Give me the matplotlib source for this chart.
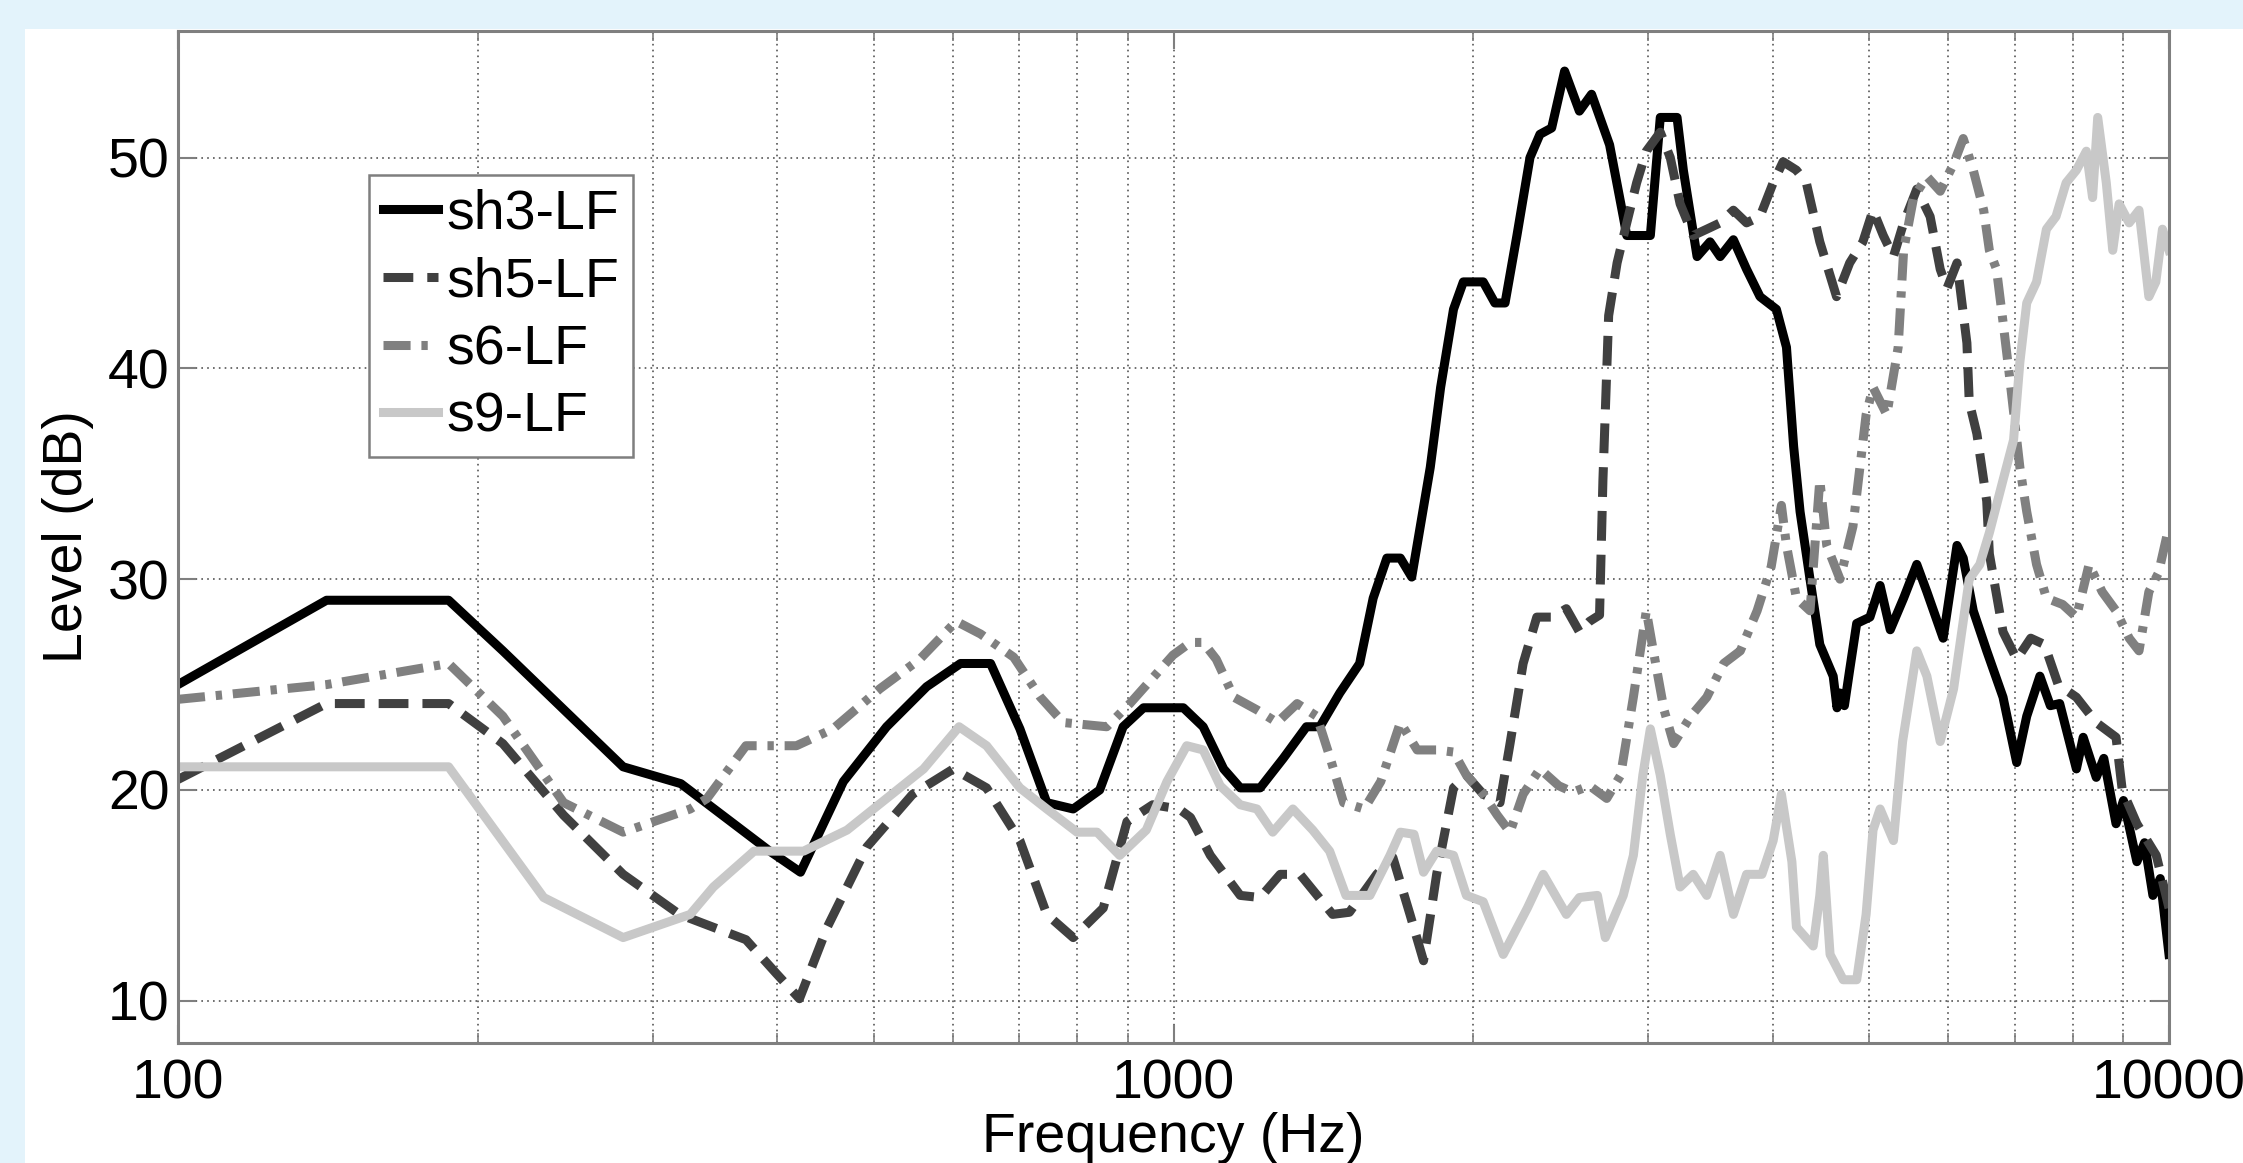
import numpy as np
import matplotlib.pyplot as plt
from matplotlib.patches import Rectangle

# Level vs frequency
sh3_freq = [100, 141, 187, 212, 280, 320, 393, 422, 466, 515, 565, 611, 655, 701, 746, 793, 843, 890,
            933, 1023, 1071, 1123, 1167, 1222, 1289, 1360, 1403, 1469, 1538, 1587, 1638, 1690, 1735,
            1811, 1855, 1911, 1955, 2047, 2103, 2153, 2213, 2281, 2334, 2398, 2471, 2557, 2630, 2742,
            2830, 2853, 3013, 3083, 3205, 3252, 3357, 3459, 3541, 3651, 3764, 3883, 4033, 4128, 4197,
            4260, 4359, 4459, 4599, 4640, 4672, 4720, 4778, 4856, 5007, 5126, 5248, 5413, 5580, 5712,
            5931, 6124, 6213, 6359, 6560, 6812, 7031, 7196, 7418, 7600, 7766, 8072, 8200, 8451, 8600,
            8847, 9000, 9284, 9450, 9635, 9800, 10000]
sh3_level = [25.0, 29.0, 29.0, 26.6, 21.1, 20.3, 17.1, 16.1, 20.4, 23.0, 24.9, 26.0, 26.0, 22.9, 19.4,
             19.1, 20.0, 23.0, 23.9, 23.9, 23.0, 21.0, 20.1, 20.1, 21.5, 23.0, 23.0, 24.6, 26.0, 29.1,
             31.0, 31.0, 30.1, 35.3, 39.1, 42.8, 44.1, 44.1, 43.1, 43.1, 46.3, 50.0, 51.1, 51.4, 54.1,
             52.2, 53.0, 50.6, 47.2, 46.3, 46.3, 51.9, 51.9, 49.4, 45.3, 46.0, 45.3, 46.1, 44.7, 43.4,
             42.8, 41.0, 36.3, 33.2, 30.0, 26.9, 25.4, 23.9, 24.6, 24.0, 25.7, 27.9, 28.2, 29.7, 27.6,
             29.1, 30.7, 29.4, 27.2, 31.6, 31.0, 28.5, 26.6, 24.4, 21.3, 23.5, 25.4, 24.0, 24.1, 21.0,
             22.5, 20.6, 21.5, 18.4, 19.5, 16.6, 17.5, 15.0, 15.8, 12.2]

sh5_freq = [100, 141, 187, 212, 244, 280, 319, 372, 399, 421, 449, 492, 547, 601, 649, 701, 746, 793,
            850, 898, 953, 1013, 1040, 1089, 1167, 1222, 1280, 1340, 1445, 1502, 1600, 1661, 1728, 1783,
            1838, 1911, 1969, 2047, 2128, 2178, 2245, 2317, 2404, 2481, 2557, 2618, 2679, 2700, 2736,
            2790, 2853, 2919, 2985, 3083, 3155, 3228, 3327, 3433, 3541, 3651, 3764, 3883, 4003, 4096,
            4224, 4322, 4459, 4635, 4778, 4926, 5043, 5164, 5287, 5413, 5580, 5755, 5891, 5985, 6124,
            6266, 6300, 6412, 6560, 6600, 6812, 7031, 7263, 7497, 7739, 8072, 8451, 8847, 8975, 9284,
            9710, 10000]
sh5_level = [20.5, 24.1, 24.1, 22.2, 18.8, 16.0, 14.1, 12.9, 11.3, 10.1, 13.5, 17.3, 19.8, 21.0, 20.1,
             17.6, 14.1, 13.0, 14.4, 18.5, 19.3, 19.1, 18.7, 16.9, 15.0, 14.9, 16.0, 16.0, 14.1, 14.2,
             16.0, 16.8, 14.1, 11.9, 16.0, 20.1, 20.7, 19.8, 19.4, 22.2, 26.0, 28.2, 28.2, 28.6, 27.5,
             28.0, 28.3, 34.7, 42.5, 45.0, 46.9, 48.8, 50.3, 51.2, 50.0, 47.8, 46.3, 46.6, 46.9, 47.5,
             46.9, 47.2, 48.8, 49.8, 49.4, 48.8, 46.0, 43.4, 45.0, 46.0, 47.5, 46.3, 45.3, 46.9, 48.5,
             47.2, 44.7, 43.8, 45.0, 41.2, 38.4, 36.9, 33.7, 31.2, 27.5, 26.2, 27.2, 26.9, 25.0, 24.4,
             23.2, 22.5, 20.0, 18.4, 16.9, 14.4]

s6_freq = [100, 141, 187, 212, 244, 280, 327, 340, 372, 418, 455, 507, 556, 605, 640, 691, 735, 775, 857,
           904, 999, 1040, 1071, 1104, 1150, 1213, 1271, 1331, 1393, 1435, 1482, 1554, 1615, 1690, 1757,
           1838, 1911, 1969, 2047, 2115, 2178, 2245, 2334, 2438, 2519, 2618, 2724, 2813, 2897, 2985,
           3026, 3110, 3180, 3308, 3433, 3570, 3710, 3857, 3985, 4080, 4128, 4224, 4359, 4459, 4531,
           4672, 4814, 4963, 5043, 5206, 5345, 5413, 5539, 5712, 5891, 6076, 6213, 6359, 6514, 6600,
           6710, 6812, 6924, 7083, 7196, 7361, 7531, 7819, 8072, 8312, 8568, 8847, 9120, 9330, 9545,
           9760, 10000]
s6_level = [24.3, 25.0, 26.0, 23.5, 19.4, 18.0, 19.1, 19.6, 22.1, 22.1, 22.9, 24.8, 26.2, 28.0, 27.4,
            26.3, 24.4, 23.2, 23.0, 24.1, 26.4, 27.0, 27.0, 26.2, 24.4, 23.8, 23.2, 24.1, 23.5, 21.6,
            19.4, 19.1, 20.4, 23.2, 21.9, 21.9, 21.8, 20.7, 19.8, 18.8, 18.0, 19.8, 21.0, 20.2, 19.9,
            20.2, 19.6, 20.7, 24.4, 28.5, 26.9, 23.8, 22.2, 23.5, 24.4, 26.0, 26.6, 28.5, 30.6, 33.5,
            31.6, 29.1, 28.5, 34.7, 31.6, 30.0, 32.5, 37.8, 39.1, 37.8, 41.0, 45.6, 48.1, 49.1, 48.4,
            49.7, 50.9, 49.4, 47.5, 45.6, 44.7, 42.2, 39.4, 35.3, 33.2, 30.7, 29.1, 28.8, 28.2, 30.7,
            29.4, 28.5, 27.2, 26.6, 29.4, 30.3, 32.5]

s9_freq = [100, 187, 233, 280, 327, 345, 379, 425, 470, 515, 561, 609, 649, 701, 746, 800, 838, 883, 939,
           985, 1031, 1071, 1114, 1167, 1213, 1258, 1318, 1380, 1435, 1490, 1575, 1650, 1690, 1744, 1783,
           1838, 1911, 1969, 2047, 2144, 2267, 2352, 2481, 2557, 2666, 2715, 2830, 2897, 2961, 3013,
           3083, 3155, 3228, 3327, 3433, 3541, 3651, 3764, 3900, 4003, 4080, 4180, 4224, 4391, 4459,
           4495, 4566, 4707, 4856, 4963, 5043, 5126, 5287, 5400, 5580, 5712, 5891, 6076, 6300, 6456,
           6600, 6812, 6980, 7083, 7196, 7361, 7531, 7700, 7882, 8072, 8260, 8380, 8480, 8650, 8780,
           8910, 9120, 9330, 9545, 9700, 9850, 10000]
s9_level = [21.1, 21.1, 14.9, 13.0, 14.1, 15.4, 17.1, 17.1, 18.1, 19.6, 21.0, 23.0, 22.1, 20.1, 19.1,
            18.0, 18.0, 16.9, 18.1, 20.4, 22.1, 21.9, 20.2, 19.3, 19.1, 18.0, 19.1, 18.1, 17.1, 15.0,
            15.0, 16.9, 18.0, 17.9, 16.1, 17.1, 16.9, 15.0, 14.7, 12.2, 14.4, 16.0, 14.1, 14.9, 15.0,
            13.0, 15.0, 16.9, 20.7, 22.9, 20.7, 17.9, 15.4, 16.0, 15.0, 16.9, 14.1, 16.0, 16.0, 17.6,
            19.8, 16.6, 13.5, 12.6, 15.0, 16.9, 12.2, 11.0, 11.0, 14.1, 18.1, 19.1, 17.6, 22.3, 26.6,
            25.4, 22.3, 24.8, 30.0, 30.7, 32.2, 34.7, 36.6, 40.3, 43.1, 44.1, 46.6, 47.2, 48.8, 49.4,
            50.3, 48.1, 51.9, 48.8, 45.6, 47.8, 46.9, 47.5, 43.4, 44.1, 46.6, 45.6]

names = ["sh3-LF", "sh5-LF", "s6-LF", "s9-LF"]
xtick_vals = [100, 1000, 10000]
ytick_vals = [10, 20, 30, 40, 50]

W, H = 2243, 1163
plt.rcParams['font.family'] = ['Liberation Sans', 'DejaVu Sans']
fs = 40

fig = plt.figure(figsize=(W / 100, H / 100), dpi=100, facecolor='#e3f3fb')
# white panel behind the plot
fig.add_artist(Rectangle((25 / W, 0), 1, (H - 29) / H, transform=fig.transFigure,
                         facecolor='white', edgecolor='none', zorder=0))

ax = fig.add_axes([178 / W, 1 - 1043 / H, (2169 - 178) / W, (1043 - 31) / H])
ax.set_xscale('log')

lw = 6.5
ax.plot(sh3_freq, sh3_level, color='black', lw=lw, label=names[0])
ax.plot(sh5_freq, sh5_level, color='#404040', lw=lw, dashes=(3.3, 1.55), label=names[1])
ax.plot(s6_freq, s6_level, color='#808080', lw=lw, dashes=(3, 1.2, 0.7, 1.2), label=names[2])
ax.plot(s9_freq, s9_level, color='#c8c8c8', lw=lw, label=names[3])

ax.set_xlim(100, 10000)
ax.set_ylim(8, 56)

ax.set_xticks(xtick_vals)
ax.set_xticklabels([str(v) for v in xtick_vals])
ax.set_yticks(ytick_vals)
ax.set_yticklabels([str(v) for v in ytick_vals])
ax.tick_params(axis='both', which='major', direction='in', length=13, width=1.5,
               colors='#7f7f7f', labelcolor='black', labelsize=fs, right=True, top=True)
ax.tick_params(axis='x', which='major', pad=11)
ax.tick_params(axis='y', which='major', pad=6)
ax.tick_params(axis='x', which='minor', direction='in', length=7, width=1.2,
               colors='#7f7f7f', top=True, labelbottom=False)

ax.grid(True, which='both', axis='x', color='#555555', linestyle=(0, (1, 2.5)), lw=1.2)
ax.grid(True, which='major', axis='y', color='#555555', linestyle=(0, (1, 2.5)), lw=1.2)
ax.set_axisbelow(True)

for s in ax.spines.values():
    s.set_color('#7f7f7f')
    s.set_linewidth(2.2)

ax.set_xlabel("Frequency (Hz)", fontsize=fs, labelpad=1)
ax.set_ylabel("Level (dB)", fontsize=fs, labelpad=10)

leg = ax.legend(loc='upper left', bbox_to_anchor=(0.0959, 0.8577), borderaxespad=0,
                fontsize=fs, handlelength=1.0, handletextpad=0.15, labelspacing=0.28,
                borderpad=0.25, fancybox=False, framealpha=1)
leg.get_frame().set_edgecolor('#7f7f7f')
leg.get_frame().set_linewidth(1.8)

fig.savefig("out.png", dpi=100, facecolor=fig.get_facecolor())
